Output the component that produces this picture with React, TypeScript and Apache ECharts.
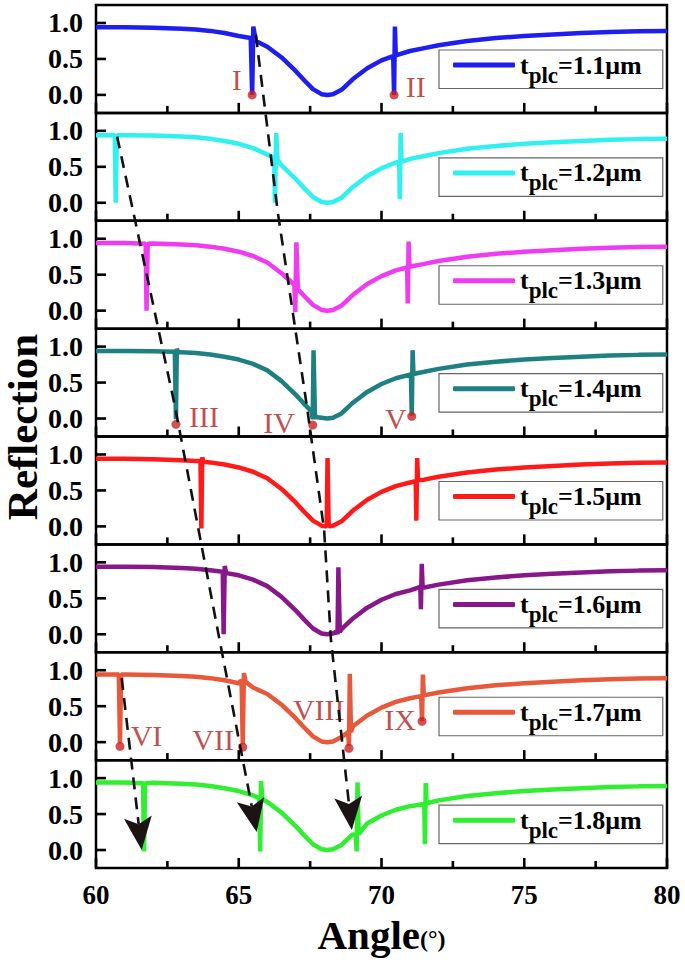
import React, { useEffect, useRef } from 'react';
import * as echarts from 'echarts';

// ---------- data ----------
const thicknesses = ['1.1', '1.2', '1.3', '1.4', '1.5', '1.6', '1.7', '1.8'];
const curveColors = ['#1E1EF0', '#30F0F0', '#F03CF0', '#1E8080', '#FF1A1A', '#88188A', '#E8583A', '#30EE30'];

const baseline: number[][] = [
  [60, 0.94], [61, 0.94], [62, 0.935], [63, 0.92], [63.5, 0.91], [64, 0.89], [64.5, 0.86],
  [65, 0.82], [65.5, 0.76], [66, 0.67], [66.5, 0.52], [67, 0.33], [67.3, 0.2], [67.6, 0.08],
  [67.9, 0.01], [68.1, 0.0], [68.3, 0.01], [68.6, 0.07], [69, 0.22], [69.5, 0.37], [70, 0.48],
  [70.5, 0.56], [71, 0.61], [71.5, 0.65], [72, 0.69], [73, 0.75], [74, 0.79], [75, 0.82],
  [76, 0.84], [77, 0.86], [78, 0.875], [79, 0.885], [80, 0.89],
];

const res11: number[][][] = [
  [[65.42, 0.79], [65.47, 0.0], [65.51, 0.95], [65.6, 0.75]],
  [[70.41, 0.54], [70.44, 0.0], [70.47, 0.95], [70.5, 0.55]],
];
const res12: number[][][] = [
  [[60.66, 0.94], [60.69, 0.0], [60.73, 0.94]],
  [[66.24, 0.63], [66.27, 0.0], [66.31, 0.97], [66.36, 0.6]],
  [[70.62, 0.57], [70.64, 0.05], [70.67, 0.97], [70.7, 0.57]],
];
const res13: number[][][] = [
  [[61.74, 0.93], [61.77, 0.0], [61.81, 0.93]],
  [[66.95, 0.36], [66.98, -0.02], [67.02, 0.95], [67.07, 0.3]],
  [[70.9, 0.6], [70.92, 0.1], [70.95, 0.96], [70.98, 0.61]],
];
const res14: number[][][] = [
  [[62.76, 0.93], [62.8, -0.01], [62.83, 0.97], [62.87, 0.93]],
  [[67.55, 0.1], [67.59, -0.01], [67.62, 0.95], [67.67, 0.02]],
  [[71.03, 0.62], [71.06, 0.04], [71.09, 0.95], [71.12, 0.62]],
];
const res15: number[][][] = [
  [[63.66, 0.91], [63.69, -0.03], [63.72, 0.96], [63.76, 0.9]],
  [[68.05, 0.0], [68.08, -0.01], [68.11, 0.95], [68.15, 0.0]],
  [[71.2, 0.63], [71.22, 0.08], [71.25, 0.95], [71.28, 0.64]],
];
const res16: number[][][] = [
  [[64.44, 0.87], [64.47, 0.0], [64.51, 0.95], [64.56, 0.85]],
  [[68.43, 0.04], [68.46, 0.0], [68.49, 0.93], [68.54, 0.03]],
  [[71.36, 0.66], [71.38, 0.35], [71.41, 0.98], [71.44, 0.66]],
];
const res17: number[][][] = [
  [[60.8, 0.94], [60.84, -0.02], [60.88, 0.94]],
  [[65.1, 0.86], [65.14, -0.03], [65.18, 0.96], [65.24, 0.84]],
  [[68.83, 0.14], [68.86, -0.05], [68.89, 0.95], [68.93, 0.14]],
  [[71.39, 0.64], [71.42, 0.29], [71.45, 0.94], [71.48, 0.65]],
];
const res18: number[][][] = [
  [[61.65, 0.93], [61.68, -0.02], [61.72, 0.93]],
  [[65.72, 0.72], [65.75, -0.02], [65.78, 0.96], [65.83, 0.7]],
  [[69.1, 0.2], [69.13, -0.02], [69.16, 0.94], [69.2, 0.22]],
  [[71.5, 0.64], [71.52, 0.08], [71.55, 0.93], [71.58, 0.65]],
];
const panelResonances = [res11, res12, res13, res14, res15, res16, res17, res18];

const markerNames = ['I', 'II', 'III', 'IV', 'V', 'VI', 'VII', 'VIII', 'IX'];
const markerPanels = [0, 0, 3, 3, 3, 6, 6, 6, 6];
const markerAngles = [65.47, 70.44, 62.8, 67.59, 71.06, 60.84, 65.14, 68.86, 71.42];
const markerValues = [0.0, 0.0, -0.08, -0.09, 0.03, -0.06, -0.07, -0.085, 0.29];
const labelAngles = [64.93, 71.2, 63.78, 66.41, 70.5, 61.77, 64.1, 67.8, 70.65];
const labelValues = [0.21, 0.12, 0.03, -0.05, 0.0, 0.09, 0.04, 0.45, 0.32];

const arrowA = [[0, 65.6, 0.83], [1, 66.37, -0.14], [3, 67.39, 0.16], [4, 67.99, -0.05], [5, 68.23, -0.08], [7, 68.96, 0.28]];
const arrowB = [[1, 60.74, 0.92], [3, 62.77, 0.16], [5, 64.31, -0.04], [7, 65.63, 0.25]];
const arrowC = [[6, 60.9, 0.89], [7, 61.6, 0.0]];
const arrows = [arrowA, arrowB, arrowC];

const xTicks = { min: 60, max: 80, interval: 5 };
const xTickValues = [60, 62.5, 65, 67.5, 70, 72.5, 75, 77.5, 80];
const yRange = { min: -0.25, max: 1.25 };
const yTickValues = [0, 0.5, 1.0];

const FONT = 'Liberation Serif';
const PANEL_TOP = 5;
const PANEL_H = 107.875;
const LEFT = 96;
const RIGHT = 18;

function buildCurve(res: number[][][]) {
  const spans = res.map((r) => [r[0][0], r[r.length - 1][0]]);
  const base = baseline.filter(([x]) => !spans.some(([a, b]) => x >= a && x <= b));
  return [...base, ...res.flat()].sort((p, q) => p[0] - q[0]);
}

const seriesName = (i: number) => `t_plc=${thicknesses[i]}μm`;

function arrowGraphics(pts: number[][]) {
  const n = pts.length;
  const tip = pts[n - 1];
  const prev = pts[n - 2];
  let dx = tip[0] - prev[0];
  let dy = tip[1] - prev[1];
  const len = Math.hypot(dx, dy) || 1;
  dx /= len;
  dy /= len;
  const L = 33, W = 14, notch = 7;
  const bx = tip[0] - dx * L, by = tip[1] - dy * L;
  const nx = -dy, ny = dx;
  const left = [bx + nx * W, by + ny * W];
  const right = [bx - nx * W, by - ny * W];
  const notchP = [tip[0] - dx * (L - notch), tip[1] - dy * (L - notch)];
  const shaft = [...pts.slice(0, n - 1), notchP];
  return [
    {
      type: 'polyline',
      shape: { points: shaft },
      style: { stroke: '#111', lineWidth: 2.6, lineDash: [12, 8], fill: null },
      z: 100,
    },
    {
      type: 'polygon',
      shape: { points: [tip, left, notchP, right] },
      style: { fill: '#1c1414' },
      z: 101,
    },
  ];
}

export default function App() {
  const ref = useRef<HTMLDivElement>(null);

  useEffect(() => {
    if (!ref.current) return;
    const chart = echarts.init(ref.current, null, { renderer: 'svg' });
    const idx = thicknesses.map((_, i) => i);

    const grids = idx.map((i) => ({
      left: LEFT,
      right: RIGHT,
      top: PANEL_TOP + i * PANEL_H,
      height: PANEL_H,
      show: true,
      borderColor: '#000',
      borderWidth: 2.5,
      backgroundColor: 'transparent',
      z: 0,
    }));

    const xAxes = idx.map((i) => ({
      type: 'value',
      gridIndex: i,
      position: 'bottom',
      min: xTicks.min,
      max: xTicks.max,
      interval: xTicks.interval,
      axisLine: { show: false, onZero: false },
      splitLine: { show: false },
      axisTick: { show: false },
      axisLabel: {
        show: i === 7,
        fontSize: 27,
        fontWeight: 'bold',
        fontFamily: FONT,
        color: '#000',
        margin: 13,
      },
      name: i === 7 ? '{a|Angle}{b|(°)}' : '',
      nameLocation: 'middle',
      nameGap: 46,
      nameTextStyle: {
        rich: {
          a: { fontSize: 41, fontWeight: 'bold', fontFamily: FONT, color: '#000' },
          b: { fontSize: 24, fontWeight: 'bold', fontFamily: FONT, color: '#000', verticalAlign: 'bottom', padding: [0, 0, 4, 0] },
        },
      },
    }));

    const yAxes = idx.map((i) => ({
      type: 'value',
      gridIndex: i,
      position: 'left',
      min: yRange.min,
      max: yRange.max,
      axisLine: { show: false, onZero: false },
      splitLine: { show: false },
      axisTick: { show: false },
      axisLabel: {
        customValues: yTickValues,
        formatter: (v: number) => v.toFixed(1),
        fontSize: 28,
        fontWeight: 'bold',
        fontFamily: FONT,
        color: '#000',
        margin: 13,
      },
    }));

    const lineSeries = idx.map((i) => ({
      type: 'line',
      name: seriesName(i),
      xAxisIndex: i,
      yAxisIndex: i,
      data: buildCurve(panelResonances[i]),
      symbol: 'none',
      showSymbol: false,
      lineStyle: { color: curveColors[i], width: 4.5 },
      itemStyle: { color: curveColors[i] },
      z: 3,
    }));

    const markerSeries = [0, 3, 6].map((p) => ({
      type: 'scatter',
      name: `markers-${p}`,
      xAxisIndex: p,
      yAxisIndex: p,
      symbolSize: 9,
      itemStyle: { color: '#CC2222' },
      data: markerNames
        .map((_, k) => k)
        .filter((k) => markerPanels[k] === p)
        .map((k) => [markerAngles[k], markerValues[k]]),
      z: 5,
    }));

    const labelSeries = [0, 3, 6].map((p) => ({
      type: 'scatter',
      name: `labels-${p}`,
      xAxisIndex: p,
      yAxisIndex: p,
      symbolSize: 0,
      data: markerNames
        .map((_, k) => k)
        .filter((k) => markerPanels[k] === p)
        .map((k) => [labelAngles[k], labelValues[k], markerNames[k]]),
      label: {
        show: true,
        position: 'inside',
        formatter: (pp: any) => pp.value[2],
        fontSize: 30,
        fontFamily: FONT,
        color: '#B21E1E',
      },
      z: 6,
    }));

    const legends = idx.map((i) => ({
      data: [seriesName(i)],
      left: 439,
      top: PANEL_TOP + i * PANEL_H + 45,
      orient: 'horizontal',
      icon: 'roundRect',
      itemWidth: 62,
      itemHeight: 5,
      padding: [2, 21, 2, 14],
      borderColor: '#666',
      borderWidth: 1.2,
      selectedMode: false,
      formatter: () => `{a|t}{s|plc}{a|=${thicknesses[i]}μm}`,
      textStyle: {
        color: '#000',
        fontFamily: FONT,
        rich: {
          a: { fontSize: 26, fontWeight: 'bold', fontFamily: FONT, color: '#000' },
          s: { fontSize: 23, fontWeight: 'bold', fontFamily: FONT, color: '#000', padding: [20, 0, 0, 0] },
        },
      },
    }));

    chart.setOption({
      animation: false,
      backgroundColor: '#fff',
      textStyle: { fontFamily: FONT },
      grid: grids,
      xAxis: xAxes,
      yAxis: yAxes,
      legend: legends,
      series: [...lineSeries, ...markerSeries, ...labelSeries],
    });

    const toPx = (p: number[]) => chart.convertToPixel({ gridIndex: p[0] }, [p[1], p[2]]) as number[];

    // inward tick marks placed through each grid's own scales
    const tickGraphics: any[] = [];
    idx.forEach((i) => {
      xTickValues.forEach((v) => {
        const [px, py] = toPx([i, v, yRange.min]);
        const len = v % 5 === 0 ? 10 : 7;
        tickGraphics.push({
          type: 'rect',
          shape: { x: px - 1.3, y: py - len, width: 2.6, height: len },
          style: { fill: '#000' },
          z: 60,
          silent: true,
        });
      });
      yTickValues.forEach((v) => {
        const [px, py] = toPx([i, xTicks.min, v]);
        tickGraphics.push({
          type: 'rect',
          shape: { x: px, y: py - 1.3, width: 10, height: 2.6 },
          style: { fill: '#000' },
          z: 60,
          silent: true,
        });
      });
    });

    const graphic: any[] = [
      {
        type: 'text',
        x: 22,
        y: 427,
        rotation: Math.PI / 2,
        style: {
          text: 'Reflection',
          fontSize: 43,
          fontWeight: 'bold',
          fontFamily: FONT,
          fill: '#000',
          align: 'center',
          verticalAlign: 'middle',
        },
        z: 50,
      },
      ...tickGraphics,
    ];
    arrows.forEach((a) => graphic.push(...arrowGraphics(a.map(toPx))));
    chart.setOption({ graphic });

    return () => chart.dispose();
  }, []);

  return (
    <div
      ref={ref}
      style={{ position: 'fixed', left: 0, top: 0, width: 685, height: 960, background: '#fff' }}
    />
  );
}
